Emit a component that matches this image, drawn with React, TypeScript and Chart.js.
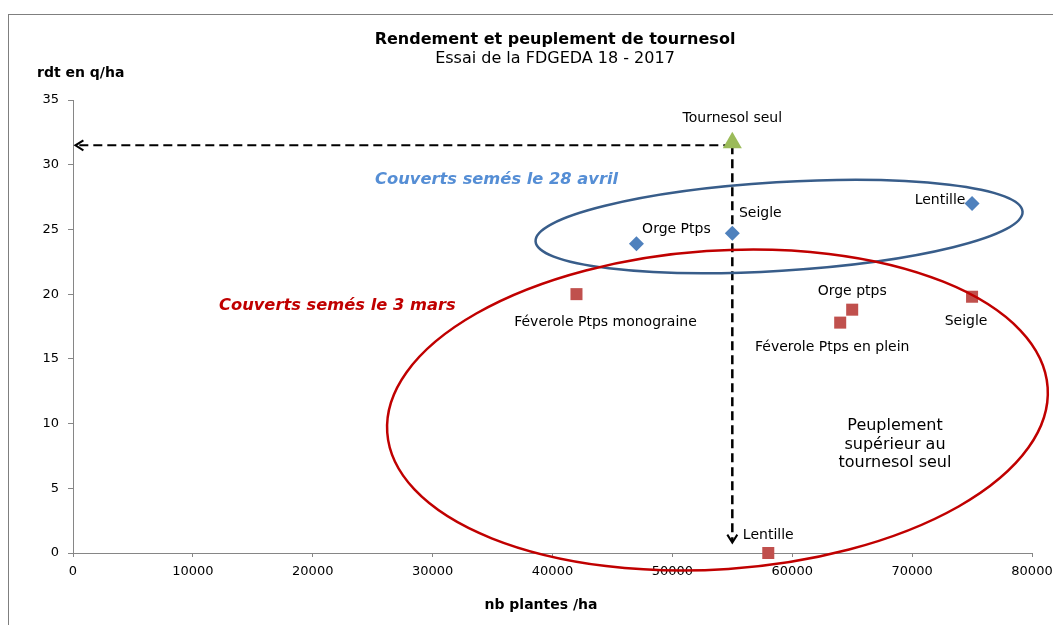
import React, { useEffect, useRef } from 'react';
import { Chart, registerables } from 'chart.js';

Chart.register(...registerables);

// ---- Data ----
const avrilNames = ['Orge Ptps', 'Seigle', 'Lentille'];
const avrilPlants = [47000, 55000, 75000];
const avrilYield = [23.9, 24.7, 27.0];

const marsNames = ['Féverole Ptps monograine', 'Orge ptps', 'Féverole Ptps en plein', 'Seigle', 'Lentille'];
const marsPlants = [42000, 65000, 64000, 75000, 58000];
const marsYield = [20.0, 18.8, 17.8, 19.8, 0];

const seulNames = ['Tournesol seul'];
const seulPlants = [55000];
const seulYield = [31.7];

const xTickLabels = ['0', '10000', '20000', '30000', '40000', '50000', '60000', '70000', '80000'];
const yTickLabels = ['0', '5', '10', '15', '20', '25', '30', '35'];

// reference guide (tournesol seul) : plants / yield
const guidePlants = 55000;
const guideYield = 31.5;
const guideEndPlants = 200;
const guideEndYield = 0.8;

// ---- Label offsets (px, style only) ----
const avrilLabelDx = [40, 28, -32];
const avrilLabelDy = [-14, -20, -3];
const marsLabelDx = [29, 0, -8, -6, 0];
const marsLabelDy = [28, -18, 25, 25, -18];
const seulLabelDx = [0];
const seulLabelDy = [-24];

// ---- Ellipses (data units) ----
const ellipseCx = [58900, 53760];
const ellipseCy = [25.23, 11.05];
const ellipseRx = [20350, 27610];
const ellipseRy = [3.42, 12.31];
const ellipseRot = [-3.5, -3.9];
const ellipseColor = ['#385d8a', '#c00000'];

const FONT = '"DejaVu Sans", Verdana, sans-serif';

const overlay = {
  id: 'overlay',
  beforeDatasetsDraw(chart: any) {
    const { ctx } = chart;
    const xs = chart.scales.x;
    const ys = chart.scales.y;
    ctx.save();
    // dashed guides
    const gx = xs.getPixelForValue(guidePlants);
    const gy = ys.getPixelForValue(guideYield);
    const hx = xs.getPixelForValue(guideEndPlants);
    const vy = ys.getPixelForValue(guideEndYield);
    ctx.strokeStyle = '#000';
    ctx.setLineDash([9, 5]);
    ctx.lineWidth = 2;
    ctx.beginPath();
    ctx.moveTo(gx, gy);
    ctx.lineTo(hx + 1, gy);
    ctx.stroke();
    ctx.lineWidth = 2.5;
    ctx.beginPath();
    ctx.moveTo(gx, gy);
    ctx.lineTo(gx, vy - 1);
    ctx.stroke();
    ctx.setLineDash([]);

    // arrowheads
    ctx.lineWidth = 2;
    ctx.beginPath();
    ctx.moveTo(hx + 8, gy - 5);
    ctx.lineTo(hx, gy);
    ctx.lineTo(hx + 8, gy + 5);
    ctx.stroke();
    ctx.beginPath();
    ctx.moveTo(gx - 5, vy - 8);
    ctx.lineTo(gx, vy);
    ctx.lineTo(gx + 5, vy - 8);
    ctx.stroke();
    ctx.restore();
  },
  afterDatasetsDraw(chart: any) {
    const { ctx } = chart;
    const xs = chart.scales.x;
    const ys = chart.scales.y;
    ctx.save();

    // ellipses
    for (let i = 0; i < ellipseCx.length; i++) {
      const cx = xs.getPixelForValue(ellipseCx[i]);
      const cy = ys.getPixelForValue(ellipseCy[i]);
      const rx = Math.abs(xs.getPixelForValue(ellipseCx[i] + ellipseRx[i]) - cx);
      const ry = Math.abs(ys.getPixelForValue(ellipseCy[i] + ellipseRy[i]) - cy);
      ctx.beginPath();
      ctx.ellipse(cx, cy, rx, ry, (ellipseRot[i] * Math.PI) / 180, 0, Math.PI * 2);
      ctx.strokeStyle = ellipseColor[i];
      ctx.lineWidth = 2.5;
      ctx.stroke();
    }

    // point labels
    ctx.fillStyle = '#000';
    ctx.font = `14px ${FONT}`;
    ctx.textAlign = 'center';
    ctx.textBaseline = 'middle';
    const lab = (names: string[], px: number[], py: number[], dx: number[], dy: number[]) => {
      names.forEach((n, i) => {
        ctx.fillText(n, xs.getPixelForValue(px[i]) + dx[i], ys.getPixelForValue(py[i]) + dy[i]);
      });
    };
    lab(avrilNames, avrilPlants, avrilYield, avrilLabelDx, avrilLabelDy);
    lab(marsNames, marsPlants, marsYield, marsLabelDx, marsLabelDy);
    lab(seulNames, seulPlants, seulYield, seulLabelDx, seulLabelDy);

    // group annotations
    ctx.textAlign = 'left';
    ctx.font = `italic bold 16.3px ${FONT}`;
    ctx.fillStyle = '#558ed5';
    ctx.fillText('Couverts semés le 28 avril', xs.getPixelForValue(25200), ys.getPixelForValue(28.82));
    ctx.fillStyle = '#c00000';
    ctx.fillText('Couverts semés le 3 mars', xs.getPixelForValue(12180), ys.getPixelForValue(19.08));

    ctx.textAlign = 'center';
    ctx.font = `16px ${FONT}`;
    ctx.fillStyle = '#000';
    const px = xs.getPixelForValue(68570);
    const py = ys.getPixelForValue(8.34);
    ctx.fillText('Peuplement', px, py - 19);
    ctx.fillText('supérieur au', px, py);
    ctx.fillText('tournesol seul', px, py + 18);

    // titles
    ctx.font = `bold 16px ${FONT}`;
    ctx.fillText('Rendement et peuplement de tournesol', 546, 25);
    ctx.font = `16px ${FONT}`;
    ctx.fillText('Essai de la FDGEDA 18 - 2017', 546, 44);
    ctx.font = `bold 14px ${FONT}`;
    ctx.textAlign = 'left';
    ctx.fillText('rdt en q/ha', 28, 58);
    ctx.textAlign = 'center';
    ctx.fillText('nb plantes /ha', 532, 590);
    ctx.restore();
  },
};

export default function App() {
  const ref = useRef<HTMLCanvasElement | null>(null);
  useEffect(() => {
    if (!ref.current) return;
    const pts = (xs: number[], ys: number[]) => xs.map((x, i) => ({ x, y: ys[i] }));
    const chart = new Chart(ref.current, {
      type: 'scatter',
      data: {
        datasets: [
          {
            label: 'Tournesol seul',
            data: pts(seulPlants, seulYield),
            pointStyle: 'triangle',
            pointRadius: 11,
            backgroundColor: '#9bbb59',
            borderColor: '#9bbb59',
            borderWidth: 0,
            clip: false,
          } as any,
          {
            label: 'Couverts semés le 28 avril',
            data: pts(avrilPlants, avrilYield),
            pointStyle: 'rectRot',
            pointRadius: 7.5,
            backgroundColor: '#4f81bd',
            borderColor: '#4f81bd',
            borderWidth: 0,
            clip: false,
          } as any,
          {
            label: 'Couverts semés le 3 mars',
            data: pts(marsPlants, marsYield),
            pointStyle: 'rect',
            pointRadius: 8.5,
            backgroundColor: '#c0504d',
            borderColor: '#c0504d',
            borderWidth: 0,
            clip: false,
          } as any,
        ],
      },
      options: {
        responsive: false,
        animation: false,
        events: [],
        layout: { padding: { top: 85, left: 0, right: 21, bottom: 32 } },
        plugins: {
          legend: { display: false },
          title: { display: false },
          tooltip: { enabled: false },
        },
        scales: {
          x: {
            type: 'linear',
            min: 0,
            max: 80000,
            ticks: {
              stepSize: 10000,
              padding: 7,
              color: '#000',
              font: { family: FONT, size: 13 },
              callback: (_v: any, i: number) => xTickLabels[i],
              maxRotation: 0,
            },
            grid: { display: true, drawOnChartArea: false, drawTicks: true, tickLength: 4, color: '#868686' },
            border: { display: true, color: '#868686', width: 1 },
            afterFit: (s: any) => {
              s.height = 40;
              s.paddingLeft = 0;
              s.paddingRight = 0;
            },
          },
          y: {
            type: 'linear',
            min: 0,
            max: 35,
            ticks: {
              stepSize: 5,
              padding: 9,
              color: '#000',
              font: { family: FONT, size: 13 },
              callback: (_v: any, i: number) => yTickLabels[i],
            },
            grid: { display: true, drawOnChartArea: false, drawTicks: true, tickLength: 5, color: '#868686' },
            border: { display: true, color: '#868686', width: 1 },
            afterFit: (s: any) => {
              s.width = 64;
              s.paddingTop = 0;
              s.paddingBottom = 0;
            },
          },
        },
      },
      plugins: [overlay],
    });
    return () => chart.destroy();
  }, []);

  return (
    <div
      style={{
        position: 'absolute',
        left: 8,
        top: 14,
        width: 1045,
        height: 611,
        borderLeft: '1px solid #7f7f7f',
        borderTop: '1px solid #7f7f7f',
        boxSizing: 'border-box',
        background: '#fff',
      }}
    >
      <canvas ref={ref} width={1044} height={610} style={{ display: 'block' }} />
    </div>
  );
}
